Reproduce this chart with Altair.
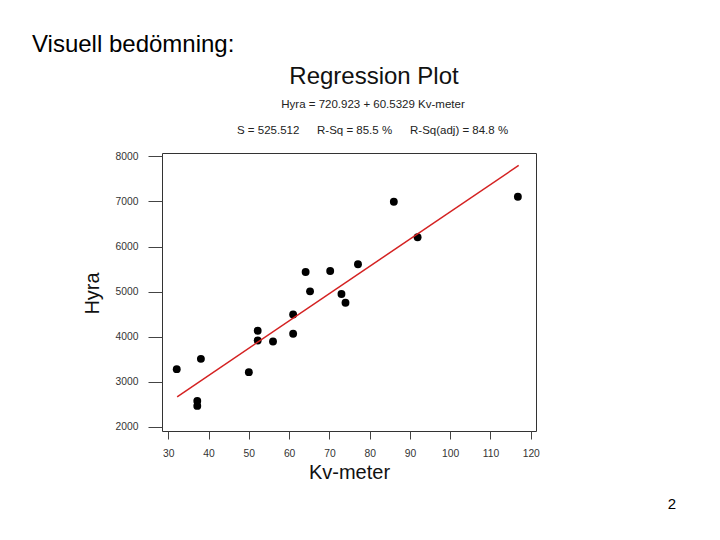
import altair as alt
import pandas as pd

# Data
kv_meter = [32.1, 38.1, 37.2, 37.2, 50.0, 52.2, 52.2, 56.0, 61.0, 61.0,
            64.1, 65.2, 70.2, 73.0, 74.0, 77.1, 86.0, 91.9, 116.8]
hyra = [3282, 3511, 2578, 2467, 3216, 4133, 3918, 3896, 4496, 4067,
        5437, 5007, 5459, 4948, 4755, 5607, 6993, 6207, 7104]

# Fitted line (Hyra = 720.923 + 60.5329 Kv-meter), endpoints
fit_x = [32.2, 117.0]
fit_y = [2670, 7800]

x_ticks = [30, 40, 50, 60, 70, 80, 90, 100, 110, 120]
y_ticks = [2000, 3000, 4000, 5000, 6000, 7000, 8000]

page_heading = "Visuell bedömning:"
plot_title = "Regression Plot"
equation = "Hyra = 720.923 + 60.5329 Kv-meter"
stats = ["S = 525.512", "R-Sq = 85.5 %", "R-Sq(adj) = 84.8 %"]
slide_number = "2"

FONT = "Liberation Sans"

df = pd.DataFrame({"x": kv_meter, "y": hyra})
fit_df = pd.DataFrame({"x": fit_x, "y": fit_y})

xscale = alt.Scale(domain=[28.44, 121.3], nice=False, zero=False)
yscale = alt.Scale(domain=[1911, 8075], nice=False, zero=False)

xaxis = alt.Axis(values=x_ticks, format="d", title="Kv-meter", grid=False, domain=False,
                 tickSize=8, tickColor="#444", labelPadding=9, labelFontSize=10.3,
                 labelColor="#333", labelFont=FONT, titleFont=FONT, titleFontSize=20,
                 titleFontWeight="normal", titleColor="#111", titleY=47,
                 titleBaseline="alphabetic")
yaxis = alt.Axis(values=y_ticks, format="d", title="Hyra", grid=False, domain=False,
                 tickSize=14, tickColor="#444", labelPadding=10, labelFontSize=10.3,
                 labelColor="#333", labelFont=FONT, titleFont=FONT, titleFontSize=20,
                 titleFontWeight="normal", titleColor="#111", titleX=-70, titleY=140,
                 titleAngle=270, titleBaseline="middle", titleAlign="center")

points = alt.Chart(df).mark_circle(size=62, color="black", opacity=1).encode(
    x=alt.X("x:Q", scale=xscale, axis=xaxis),
    y=alt.Y("y:Q", scale=yscale, axis=yaxis),
)

fit = alt.Chart(fit_df).mark_line(color="#d42222", strokeWidth=1.5).encode(
    x=alt.X("x:Q", scale=xscale),
    y=alt.Y("y:Q", scale=yscale),
)


def label(text, x, y, size, align="center", color="#111"):
    return alt.Chart(alt.Data(values=[{"t": text}])).mark_text(
        font=FONT, fontSize=size, align=align, baseline="alphabetic", color=color
    ).encode(text="t:N", x=alt.value(x), y=alt.value(y))


texts = [
    label(page_heading, -130, -101, 24, align="left", color="#000"),
    label(plot_title, 212, -69, 24),
    label(equation, 211, -45, 11.5, color="#222"),
    label(stats[0], 75, -19, 11.5, align="left", color="#222"),
    label(stats[1], 155, -19, 11.5, align="left", color="#222"),
    label(stats[2], 248, -19, 11.5, align="left", color="#222"),
    label(slide_number, 510, 356, 15, color="#000"),
]

chart = alt.layer(points, fit, *texts).properties(
    width=374,
    height=278,
    autosize=alt.AutoSizeParams(type="none"),
    padding={"left": 154, "top": 145, "right": 176, "bottom": 100},
    background="white",
).configure_view(stroke="#333", strokeWidth=1)

chart.save("out.html", embed_options={"renderer": "svg", "actions": False})
